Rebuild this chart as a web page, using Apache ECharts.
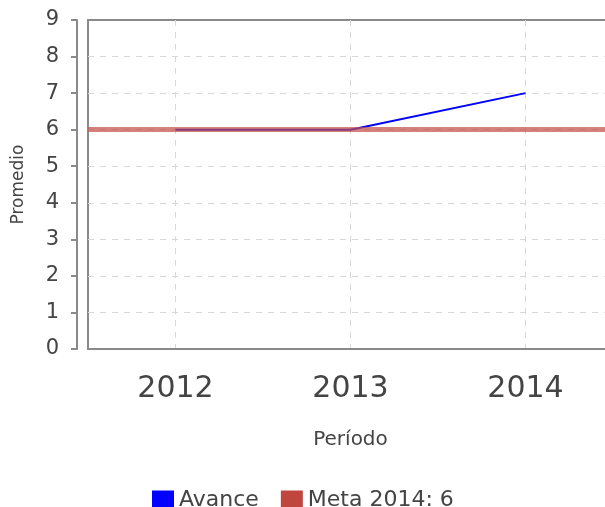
<!DOCTYPE html>
<html><head><meta charset="utf-8">
<script src="https://cdn.jsdelivr.net/npm/echarts@6/dist/echarts.min.js"></script>
<style>html,body{margin:0;padding:0;background:#fff}#c{width:605px;height:507px}</style>
</head><body><div id="c"></div>
<script>
const periods = [2012, 2013, 2014];
const avance = [6, 6, 7];
const metaValue = 6;
const yTicks = [0, 1, 2, 3, 4, 5, 6, 7, 8, 9];
const seriesNames = ['Avance', 'Meta 2014: 6'];

const chart = echarts.init(document.getElementById('c'), null, {renderer: 'canvas'});
const font = 'DejaVu Sans';
chart.setOption({
  animation: false,
  textStyle: {fontFamily: font},
  grid: {left: 88, right: -8, top: 20, bottom: 158, show: true, borderColor: '#8a8a8a', borderWidth: 2,
    backgroundColor: '#fff', outerBoundsMode: 'none', containLabel: false},
  legend: {
    data: seriesNames, left: 147, top: 484, icon: 'rect', itemWidth: 22, itemHeight: 19, itemGap: 22,
    textStyle: {fontFamily: font, fontSize: 22, color: '#444'}
  },
  xAxis: {
    type: 'value', min: periods[0] - 0.5, max: periods[periods.length - 1] + 0.5,
    minInterval: 1, maxInterval: 1, offset: 11,
    name: 'Período', nameLocation: 'middle', nameGap: 70,
    nameTextStyle: {fontFamily: font, fontSize: 20, color: '#444'},
    axisLine: {show: true, lineStyle: {color: '#8a8a8a', width: 2}},
    axisTick: {show: false},
    axisLabel: {margin: 14, fontSize: 30, color: '#444', fontFamily: font,
      formatter: v => periods.indexOf(v) >= 0 ? String(v) : ''},
    splitLine: {show: true, showMinLine: false, showMaxLine: false,
      lineStyle: {color: '#d8d8d8', type: [6, 6], width: 1}}
  },
  yAxis: {
    type: 'value', min: yTicks[0], max: yTicks[yTicks.length - 1], interval: 1, offset: 11,
    name: 'Promedio', nameLocation: 'middle', nameGap: 50,
    nameTextStyle: {fontFamily: font, fontSize: 17, color: '#444'},
    axisLine: {show: true, lineStyle: {color: '#8a8a8a', width: 2}},
    axisTick: {show: true, length: 6, lineStyle: {color: '#8a8a8a', width: 2}},
    axisLabel: {margin: 18, fontSize: 21, color: '#444', fontFamily: font},
    splitLine: {show: true, showMinLine: false, showMaxLine: false,
      lineStyle: {color: '#d8d8d8', type: [6, 6], width: 1}}
  },
  series: [
    {
      name: seriesNames[0], type: 'line', color: '#0000ff', symbol: 'none', z: 2,
      lineStyle: {color: '#0000ff', width: 2},
      data: periods.map((p, i) => [p, avance[i]])
    },
    {
      name: seriesNames[1], type: 'line', color: '#c0453f', symbol: 'none', z: 3,
      data: [],
      markLine: {
        silent: true, symbol: 'none', label: {show: false},
        lineStyle: {color: 'rgba(196,80,74,0.72)', width: 5, type: 'solid'},
        data: [{yAxis: metaValue}]
      }
    }
  ]
});
</script></body></html>
